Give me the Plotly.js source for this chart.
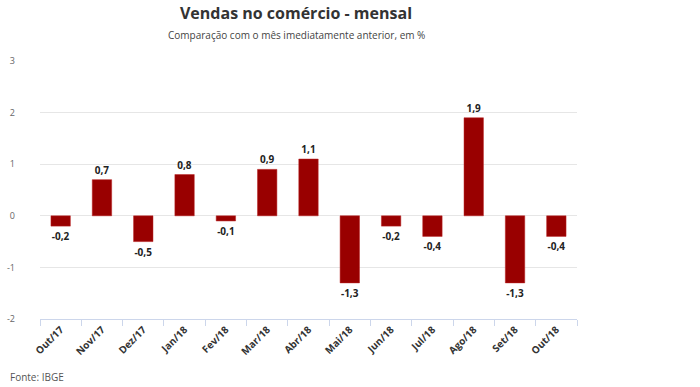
<!DOCTYPE html>
<html>
<head>
<meta charset="utf-8">
<script src="https://cdn.plot.ly/plotly-3.0.1.min.js"></script>
<style>html,body{margin:0;padding:0;background:#fff;}#chart{width:700px;height:387px;}</style>
</head>
<body>
<div id="chart"></div>
<script>
const months = ["Out/17","Nov/17","Dez/17","Jan/18","Fev/18","Mar/18","Abr/18","Mai/18","Jun/18","Jul/18","Ago/18","Set/18","Out/18"];
const values = [-0.2, 0.7, -0.5, 0.8, -0.1, 0.9, 1.1, -1.3, -0.2, -0.4, 1.9, -1.3, -0.4];
const labels = values.map(v => v.toFixed(1).replace('.', ','));
const yTicks = [-2, -1, 0, 1, 2, 3];

const trace = {
  type: 'bar',
  x: months,
  y: values,
  text: labels,
  textposition: 'outside',
  cliponaxis: false,
  textfont: {family: 'Open Sans', size: 10, color: '#222', weight: 'bold'},
  marker: {color: '#990000', line: {color: '#b22', width: 0.5}},
  hoverinfo: 'none'
};

const layout = {
  width: 700, height: 387,
  margin: {l: 40, r: 123, t: 61, b: 68},
  paper_bgcolor: '#fff', plot_bgcolor: '#fff',
  bargap: 0.53,
  showlegend: false,
  font: {family: 'Open Sans', color: '#555'},
  xaxis: {
    type: 'category',
    tickangle: -45,
    tickfont: {family: 'Open Sans', size: 10, color: '#333', weight: 'bold'},
    showgrid: false,
    showline: true, linecolor: '#ccd6eb', linewidth: 1,
    ticks: 'outside', tickcolor: '#ccd6eb', ticklen: 6,
    tickson: 'boundaries'
  },
  yaxis: {
    range: [-2, 3],
    tickvals: yTicks,
    ticktext: yTicks.map(String),
    tickfont: {family: 'Open Sans', size: 9, color: '#666'},
    showgrid: true, gridcolor: '#e6e6e6', gridwidth: 1,
    zeroline: false,
    ticklabelstandoff: 24,
    fixedrange: true
  },
  title: {
    text: '<b>Vendas no comércio - mensal</b>',
    font: {family: 'Open Sans', size: 16, color: '#333'},
    x: 0.424, xanchor: 'center', y: 0.965, yanchor: 'middle'
  },
  annotations: [
    {text: 'Comparação com o mês imediatamente anterior, em %', xref: 'paper', yref: 'paper',
     x: 296/700, y: 1 - 35/387, xanchor: 'center', yanchor: 'middle', showarrow: false,
     font: {family: 'Open Sans', size: 10, color: '#444'}, xref: 'paper', yref: 'paper'},
    {text: 'Fonte: IBGE', xref: 'paper', yref: 'paper', x: 8/700, y: 1 - 377/387,
     xanchor: 'left', yanchor: 'middle', showarrow: false,
     font: {family: 'Open Sans', size: 10, color: '#555'}}
  ]
};
layout.annotations[0].xref = 'paper'; layout.annotations[0].yref = 'paper';
layout.annotations[0].x = 296/700; layout.annotations[0].y = 1 - 35/387;
// paper coordinates relative to the plot area: convert
function paperX(px){ return (px - layout.margin.l) / (700 - layout.margin.l - layout.margin.r); }
function paperY(py){ const h = 387 - layout.margin.t - layout.margin.b; return (387 - layout.margin.b - py) / h; }
layout.annotations[0].x = paperX(296); layout.annotations[0].y = paperY(35);
layout.annotations[1].x = paperX(8); layout.annotations[1].y = paperY(377);
layout.title.x = 296/700; layout.title.y = 1 - 13/387;

Plotly.newPlot('chart', [trace], layout, {staticPlot: true, displayModeBar: false});
</script>
</body>
</html>
